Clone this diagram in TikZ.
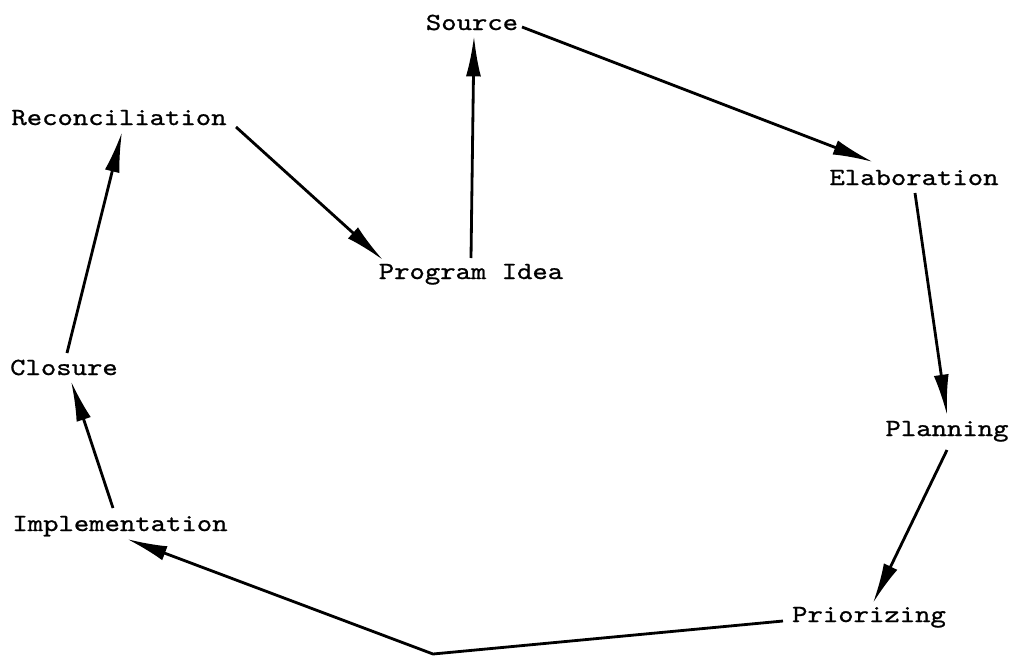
\documentclass[tikz,border=0pt]{standalone}
\usepackage{fontspec}
\newfontfamily\typewriter{lmmono10-regular}[Extension=.otf, FakeStretch=1.19, FakeBold=0.9]
\usetikzlibrary{arrows.meta}

\begin{document}
\begin{tikzpicture}[x=0.02cm, y=-0.02cm]
	\useasboundingbox (0,0) rectangle (1011,656);
	\begin{scope}[every node/.style = {inner sep=0pt, anchor=base,
			font=\typewriter\fontsize{14pt}{16pt}\selectfont}]
		\node (src)   at (472,30)  {Source};
		\node (recon) at (119,125) {Reconciliation};
		\node (idea)  at (471,279) {Program Idea};
		\node (elab)  at (914,185) {Elaboration};
		\node (plan)  at (947,436) {Planning};
		\node (clos)  at (64,375)  {Closure};
		\node (impl)  at (120,531) {Implementation};
		\node (prio)  at (869,622) {Priorizing};
	\end{scope}
	\coordinate (turn) at (433,654);
	\begin{scope}[>={Latex[length=23pt, width=8.5pt]},
			every edge/.style={draw=black, line width=1.6pt}]
		\path [->] ([shift={(0,-21)}]idea.base)   edge ([shift={(2,6)}]src.base);
		\path [->] ([shift={(50,-3)}]src.base)    edge ([shift={(-41,-23)}]elab.base);
		\path [->] ([shift={(1,8)}]elab.base)     edge ([shift={(0,-21)}]plan.base);
		\path [->] ([shift={(0,14)}]plan.base)    edge ([shift={(4,-19)}]prio.base);
		\path [->] ([shift={(-7,-23)}]impl.base)  edge ([shift={(7,6)}]clos.base);
		\path [->] ([shift={(3,-22)}]clos.base)   edge ([shift={(3,7)}]recon.base);
		\path [->] ([shift={(117,2)}]recon.base)  edge ([shift={(-88,-19)}]idea.base);
	\end{scope}
	% the last step bends at the bottom
	\draw [-{Latex[length=23pt, width=8.5pt]}, line width=1.6pt, line join=round]
		([shift={(-86,-1)}]prio.base) -- (turn) -- ([shift={(7,8)}]impl.base);
\end{tikzpicture}
\end{document}
